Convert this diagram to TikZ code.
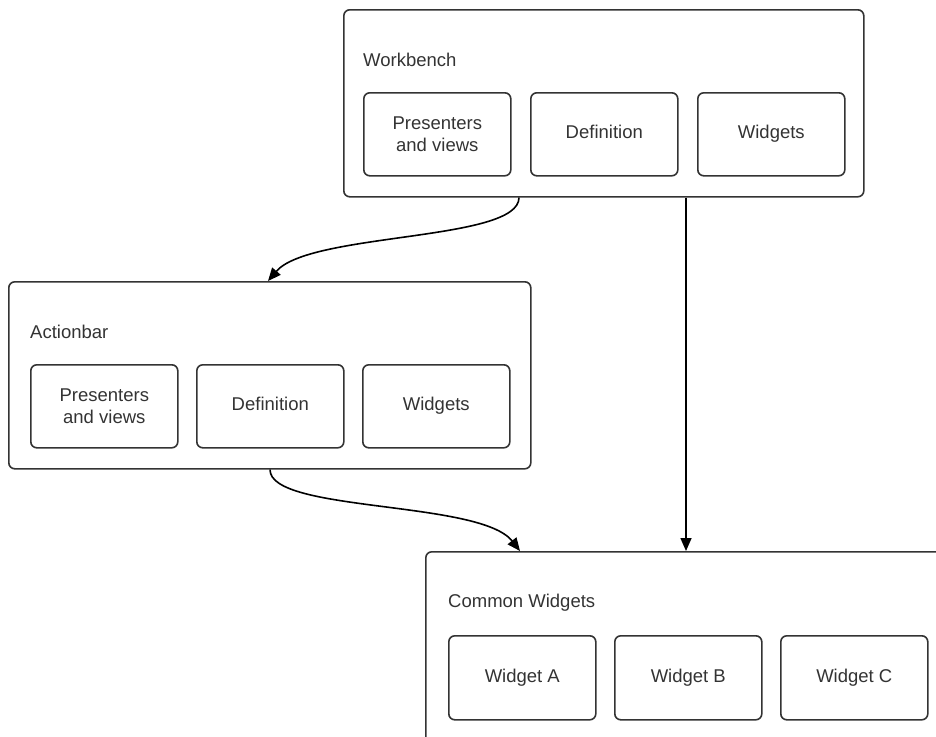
\documentclass[tikz,border=0pt]{standalone}
\usepackage{fontspec}
\setmainfont{Liberation Sans}
\usetikzlibrary{arrows.meta}
\definecolor{linec}{HTML}{333333}
\definecolor{txtc}{HTML}{333333}
\tikzset{
  outerbox/.style={draw=linec, line width=1.6pt, rounded corners=6pt, inner sep=0pt, anchor=north west, minimum width=520pt, minimum height=187pt},
  innerbox/.style={draw=linec, line width=1.6pt, rounded corners=6pt, inner sep=0pt, anchor=north west, minimum width=147pt, minimum height=83pt, align=center, text=txtc, font=\fontsize{18.5}{22}\selectfont},
  oneline/.style={innerbox, text height=13pt, text depth=4pt},
  title/.style={anchor=base west, inner sep=0pt, text=txtc, font=\fontsize{18.5}{22}\selectfont},
  conn/.style={draw=black, line width=1.6pt, -{Triangle[length=13pt,width=11pt]}}
}
\begin{document}
\begin{tikzpicture}[x=1pt,y=-1pt]
\clip (0,0) rectangle (936,736);
\useasboundingbox (0,0) rectangle (936,736);
% Workbench
\node[outerbox] (wb) at (343,9) {};
\node[title] (wbt) at (363,66) {Workbench};
\node[innerbox] (wb1) at (363,92) {Presenters\\and views};
\node[oneline] (wb2) at (530,92) {Definition};
\node[oneline] (wb3) at (697,92) {Widgets};
% Actionbar
\node[outerbox, minimum width=522pt] (ab) at (8,281) {};
\node[title] (abt) at (30,338) {Actionbar};
\node[innerbox] (ab1) at (30,364) {Presenters\\and views};
\node[oneline] (ab2) at (196,364) {Definition};
\node[oneline] (ab3) at (362,364) {Widgets};
% Common widgets
\node[outerbox, minimum width=560pt, minimum height=220pt] (cw) at (425,551) {};
\node[title] (cwt) at (448,607) {Common Widgets};
\node[oneline, minimum height=84pt] (cw1) at (448,635) {Widget A};
\node[oneline, minimum height=84pt] (cw2) at (614,635) {Widget B};
\node[oneline, minimum height=84pt] (cw3) at (780,635) {Widget C};
% connectors
\coordinate (wbs1) at (wb.south west -| 519,0);
\coordinate (abe) at (ab.north west -| 268,0);
\coordinate (wbs2) at (wb.south west -| 686,0);
\coordinate (cwe2) at (cw.north west -| 686,0);
\coordinate (abs) at (ab.south west -| 270,0);
\coordinate (cwe1) at (cw.north west -| 520,0);
\draw[conn] (wbs1) .. controls ([yshift=-44pt]wbs1) and (310,232) .. (abe);
\draw[conn] (wbs2) -- (cwe2);
\draw[conn] (abs) .. controls ([yshift=-43pt]abs) and (480,500) .. (cwe1);
\end{tikzpicture}
\end{document}
